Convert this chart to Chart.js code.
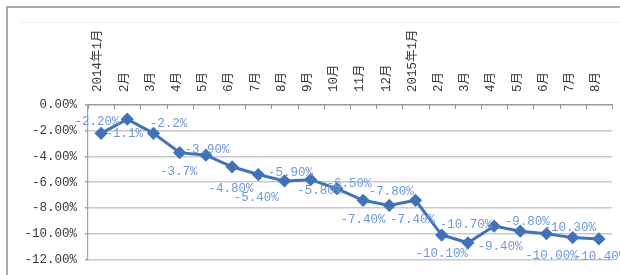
<!DOCTYPE html>
<html>
<head>
<meta charset="utf-8">
<script src="https://cdn.jsdelivr.net/npm/chart.js@4/dist/chart.umd.min.js"></script>
<style>
  html, body { margin: 0; padding: 0; background: #ffffff; }
  #wrap { width: 620px; height: 275px; position: relative; }
</style>
</head>
<body>
<div id="wrap"><canvas id="c" width="620" height="275"></canvas></div>
<script>
// ---- data ----
const categories = ['2014年1月','2月','3月','4月','5月','6月','7月','8月','9月','10月','11月','12月',
                    '2015年1月','2月','3月','4月','5月','6月','7月','8月'];
const values = [-2.2, -1.1, -2.2, -3.7, -3.9, -4.8, -5.4, -5.9, -5.8, -6.5, -7.4, -7.8,
                -7.4, -10.1, -10.7, -9.4, -9.8, -10.0, -10.3, -10.4];
const valueLabels = ['-2.20%','-1.1%','-2.2%','-3.7%','-3.90%','-4.80%','-5.40%','-5.90%','-5.80%','-6.50%',
                     '-7.40%','-7.80%','-7.40%','-10.10%','-10.70%','-9.40%','-9.80%','-10.00%','-10.30%','-10.40%'];
const yTickValues = [0, -2, -4, -6, -8, -10, -12];

// ---- styles (label placement relative to each point) ----
const labelOffsets = [[-4,-12],[-3,15],[15,-10],[-1,19],[1,-6],[-1,22],[-2,23],[6,-8],[9,11],[12,-5],
                      [0,19],[2,-14],[-3,19],[0,19],[-2,-18],[6,21],[7,-9],[5,22],[-3,-10],[1,18]];

const LINE = '#4272b8';
const LABEL = '#7098d4';
const FONT_FAMILY = "'Liberation Mono', 'Noto Sans CJK SC', monospace";

const framePlugin = {
  id: 'frame',
  beforeDraw(chart) {
    const ctx = chart.ctx;
    ctx.save();
    ctx.fillStyle = '#ffffff';
    ctx.fillRect(0, 0, chart.width, chart.height);
    ctx.strokeStyle = '#a9a9a9';
    ctx.lineWidth = 2;
    ctx.beginPath();
    ctx.moveTo(7, chart.height);
    ctx.lineTo(7, 7);
    ctx.lineTo(chart.width, 7);
    ctx.stroke();
    ctx.strokeStyle = '#f0f0f0';
    ctx.lineWidth = 1;
    ctx.beginPath();
    ctx.moveTo(20, 22.5);
    ctx.lineTo(chart.width, 22.5);
    ctx.stroke();
    ctx.restore();
  }
};

const innerTicksPlugin = {
  id: 'innerTicks',
  afterDatasetsDraw(chart) {
    const xs = chart.scales.x;
    const ctx = chart.ctx;
    const top = chart.chartArea.top;
    const step = xs.getPixelForValue(1) - xs.getPixelForValue(0);
    ctx.save();
    ctx.strokeStyle = '#9a9a9a';
    ctx.lineWidth = 1;
    ctx.beginPath();
    for (let i = 0; i <= categories.length; i++) {
      const x = Math.round(xs.getPixelForValue(i) - step / 2) + 0.5;
      ctx.moveTo(x, top);
      ctx.lineTo(x, top + 4);
    }
    ctx.stroke();
    ctx.restore();
  }
};

const dataLabelPlugin = {
  id: 'dataLabels',
  afterDatasetsDraw(chart) {
    const ctx = chart.ctx;
    const meta = chart.getDatasetMeta(0);
    ctx.save();
    ctx.font = '12.5px ' + FONT_FAMILY;
    ctx.fillStyle = LABEL;
    ctx.textAlign = 'center';
    ctx.textBaseline = 'middle';
    meta.data.forEach((pt, i) => {
      const off = labelOffsets[i];
      ctx.fillText(valueLabels[i], pt.x + off[0], pt.y + off[1]);
    });
    ctx.restore();
  }
};

new Chart(document.getElementById('c'), {
  type: 'line',
  data: {
    labels: categories,
    datasets: [{
      data: values,
      borderColor: LINE,
      backgroundColor: LINE,
      borderWidth: 3,
      pointStyle: 'rectRot',
      pointRadius: 4.5,
      pointBackgroundColor: LINE,
      pointBorderColor: LINE,
      tension: 0,
      clip: false
    }]
  },
  options: {
    responsive: false,
    animation: false,
    devicePixelRatio: 1,
    layout: { padding: { left: 0, right: 8, top: 0, bottom: 15 } },
    plugins: { legend: { display: false }, tooltip: { enabled: false }, title: { display: false } },
    scales: {
      x: {
        position: 'top',
        offset: true,
        grid: { display: true, drawOnChartArea: false, drawTicks: false },
        border: { display: true, color: '#9a9a9a', width: 1.5 },
        ticks: {
          autoSkip: false,
          maxRotation: 90,
          minRotation: 90,
          padding: 13,
          labelOffset: 12,
          color: '#3a3a3a',
          font: { family: FONT_FAMILY, size: 12.5 }
        },
        afterFit(scale) { scale.height = 105; }
      },
      y: {
        min: -12,
        max: 0,
        afterBuildTicks(scale) { scale.ticks = yTickValues.map(v => ({ value: v })); },
        grid: {
          color: ctx => (ctx.tick && ctx.tick.value === 0) ? 'rgba(0,0,0,0)' : '#c9c9c9',
          lineWidth: 1.6,
          drawTicks: true,
          tickLength: 3,
          tickColor: '#a0a0a0'
        },
        border: { display: true, color: '#a0a0a0', width: 1.2 },
        ticks: {
          padding: 8,
          color: '#3a3a3a',
          font: { family: FONT_FAMILY, size: 12.5 },
          callback: v => v.toFixed(2) + '%'
        },
        afterFit(scale) { scale.width = 88; }
      }
    }
  },
  plugins: [framePlugin, innerTicksPlugin, dataLabelPlugin]
});
</script>
</body>
</html>
